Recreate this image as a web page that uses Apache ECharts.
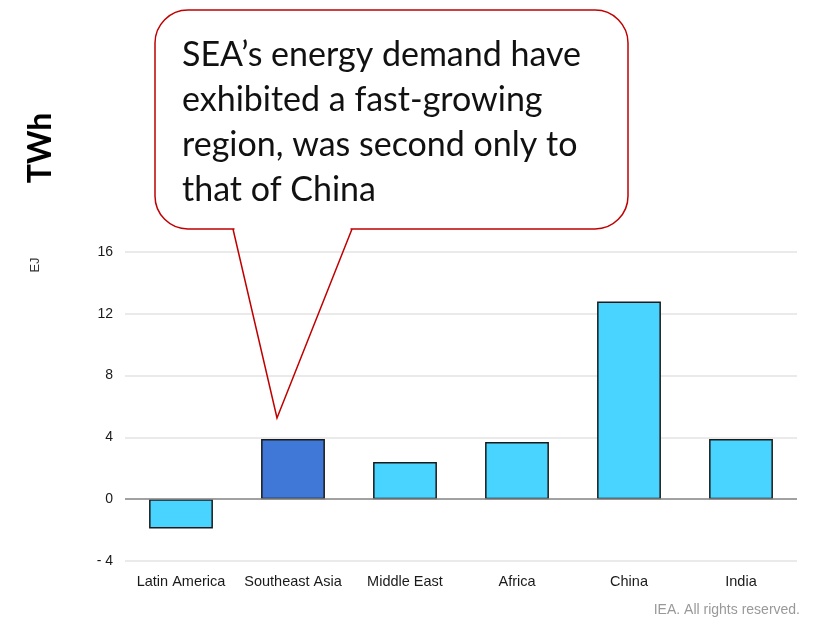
<!DOCTYPE html>
<html><head><meta charset="utf-8">
<script src="https://cdn.jsdelivr.net/npm/echarts@6/dist/echarts.min.js"></script>
<style>html,body{margin:0;padding:0;background:#fff}#c{width:814px;height:620px}</style>
</head><body><div id="c"></div>
<script>
const categories = ['Latin America','Southeast Asia','Middle East','Africa','China','India'];
const values = [-1.9, 3.9, 2.4, 3.7, 12.8, 3.9];
const highlight = 'Southeast Asia';
const yTicks = {min:-4, max:16, interval:4};
const calloutText = ['SEA\u2019s energy demand have','exhibited a fast-growing','region, was second only to','that of China'];

const chart = echarts.init(document.getElementById('c'));
chart.setOption({
  animation:false,
  grid:{left:125,right:17,top:252,bottom:59},
  xAxis:{type:'category',data:categories,
    axisLine:{show:false},axisTick:{show:false},
    axisLabel:{interval:0,color:'#1a1a1a',fontFamily:'Liberation Sans, Arial',fontSize:14.5,margin:13}},
  yAxis:{type:'value',min:yTicks.min,max:yTicks.max,interval:yTicks.interval,
    axisLine:{show:false},axisTick:{show:false},
    splitLine:{lineStyle:{color:'#e3e3e3',width:1.5}},
    axisLabel:{color:'#1a1a1a',fontFamily:'Liberation Sans, Arial',fontSize:14,margin:12,
      formatter:v=>v<0?'- '+Math.abs(v):String(v)}},
  series:[{type:'bar',barWidth:'57%',
    data:categories.map((c,i)=>({value:values[i],itemStyle:{color:c===highlight?'#3f78d6':'#48d4ff'}})),
    itemStyle:{borderColor:'#1a1a1a',borderWidth:1.5},
    markLine:{silent:true,symbol:'none',label:{show:false},
      lineStyle:{color:'#888',width:1.5,type:'solid'},data:[{yAxis:0}]}
  }],
  graphic:[
    {type:'rect',z:100,shape:{x:155,y:10,width:473,height:219,r:33},
      style:{fill:'#fff',stroke:'#c00000',lineWidth:1.5}},
    {type:'line',z:101,shape:{x1:234.5,y1:229,x2:350.5,y2:229},style:{stroke:'#fff',lineWidth:3}},
    {type:'polyline',z:102,shape:{points:[[233,229],[277,418],[352,229]]},
      style:{fill:null,stroke:'#c00000',lineWidth:1.5}},
    {type:'text',z:103,left:182,top:33,style:{text:calloutText.join('\n'),fill:'#111',
      font:'34px Lato',lineHeight:45}},
    {type:'text',z:101,x:35,y:265,rotation:Math.PI/2,style:{text:'EJ',fill:'#333',
      font:'13px "Liberation Sans", Arial',align:'center',verticalAlign:'middle'}},
    {type:'text',z:101,x:41,y:148,rotation:Math.PI/2,style:{text:'TWh',fill:'#000',
      font:'bold 32px Lato',align:'center',verticalAlign:'middle'}},
    {type:'text',z:101,right:14,top:603,style:{text:'IEA. All rights reserved.',fill:'#999',
      font:'14px "Liberation Sans", Arial'}}
  ]
});
</script></body></html>
